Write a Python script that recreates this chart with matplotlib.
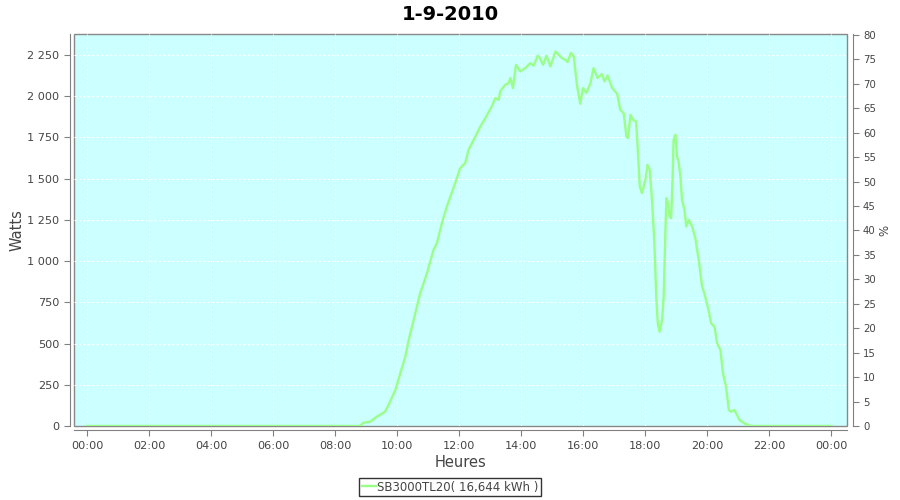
import matplotlib
matplotlib.use("Agg")
import matplotlib.pyplot as plt
from matplotlib.ticker import FuncFormatter, MultipleLocator

title = "1-9-2010"
series_name = "SB3000TL20( 16,644 kWh )"
x_label = "Heures"
y_label = "Watts"
y2_label = "%"

# time in hours, power in watts
hours = [0.0, 8.8, 8.91, 9.13, 9.34, 9.61, 9.77, 9.94, 10.1, 10.26, 10.37, 10.53,
         10.74, 10.96, 11.17, 11.28, 11.44, 11.6, 11.87, 12.03, 12.19, 12.3, 12.52,
         12.68, 12.84, 13.05, 13.16, 13.27, 13.32, 13.48, 13.59, 13.65, 13.73, 13.83,
         13.97, 14.13, 14.29, 14.4, 14.53, 14.6, 14.7, 14.81, 14.94, 15.1, 15.31,
         15.42, 15.49, 15.6, 15.69, 15.8, 15.9, 15.99, 16.1, 16.23, 16.33, 16.46,
         16.6, 16.68, 16.78, 16.93, 17.09, 17.19, 17.3, 17.39, 17.44, 17.52, 17.6,
         17.7, 17.75, 17.82, 17.89, 18.0, 18.07, 18.14, 18.22, 18.29, 18.35, 18.4,
         18.46, 18.54, 18.59, 18.65, 18.68, 18.73, 18.78, 18.83, 18.88, 18.91, 18.97,
         19.02, 19.07, 19.13, 19.18, 19.26, 19.32, 19.4, 19.51, 19.61, 19.72, 19.83,
         19.9, 20.01, 20.12, 20.23, 20.31, 20.42, 20.5, 20.6, 20.69, 20.76, 20.87,
         21.04, 21.2, 21.4, 24.0]
watts = [0, 0, 20, 26, 56, 87, 147, 218, 320, 420, 522, 643,
         805, 927, 1068, 1109, 1230, 1331, 1473, 1564, 1594, 1675, 1755,
         1816, 1867, 1938, 1988, 1978, 2029, 2069, 2079, 2110, 2049, 2190,
         2150, 2170, 2200, 2185, 2245, 2231, 2190, 2245, 2180, 2271, 2231,
         2221, 2207, 2262, 2241, 2059, 1954, 2049, 2019, 2079, 2170, 2110,
         2134, 2089, 2126, 2049, 2015, 1917, 1897, 1755, 1746, 1887, 1857,
         1846, 1695, 1452, 1412, 1493, 1584, 1553, 1351, 1109, 785, 623,
         572, 643, 785, 1209, 1382, 1351, 1270, 1260, 1513, 1735, 1766,
         1634, 1604, 1513, 1371, 1311, 1209, 1250, 1209, 1139, 1007, 845,
         805, 724, 623, 602, 502, 461, 320, 238, 97, 87, 97,
         36, 15, 0, 0]

x_ticks = list(range(0, 25, 2))
x_tick_labels = ["%02d:00" % (h % 24) for h in x_ticks]

bg = "#ccffff"
line_color = "#99ff88"
tick_color = "#808080"
label_color = "#444444"

plt.rcParams['font.family'] = ['DejaVu Sans']

fig = plt.figure(figsize=(9, 5), dpi=100)
ax = fig.add_axes([74/900, 1-426/500, (847-74)/900, (426-34)/500])
ax.set_facecolor(bg)
ax.patch.set_edgecolor("#888888")
ax.patch.set_linewidth(1.0)

ax.plot(hours, watts, color=line_color, lw=1.7, label=series_name, zorder=3)

ax.set_xlim(-0.42, 24.5)
ax.set_ylim(0, 2377)
ax.set_xticks(x_ticks)
ax.set_xticklabels(x_tick_labels)
ax.yaxis.set_major_locator(MultipleLocator(250))
ax.yaxis.set_major_formatter(FuncFormatter(lambda v, p: "{:,.0f}".format(v).replace(",", " ")))
ax.grid(True, color="white", linestyle=(0, (2, 2)), lw=0.8)
ax.set_axisbelow(True)

for s in ["top", "right"]:
    ax.spines[s].set_visible(False)
for s in ["left", "bottom"]:
    ax.spines[s].set_position(("outward", 3))
    ax.spines[s].set_color(tick_color)
ax.tick_params(axis="both", colors=tick_color, labelcolor=label_color,
               labelsize=8.1, length=4, direction="out")

ax.set_xlabel(x_label, fontsize=10.5, color=label_color, labelpad=3)
ax.set_ylabel(y_label, fontsize=10.5, color=label_color, labelpad=2)

ax2 = ax.twinx()
ax2.set_ylim(0, 80.2)
ax2.yaxis.set_major_locator(MultipleLocator(5))
for s in ["top", "left", "bottom"]:
    ax2.spines[s].set_visible(False)
ax2.spines["right"].set_position(("outward", 4))
ax2.spines["right"].set_color(tick_color)
ax2.tick_params(axis="y", colors=tick_color, labelcolor=label_color,
                labelsize=7.3, length=4, direction="out")
ax2.set_ylabel(y2_label, fontsize=8.5, color=label_color, labelpad=2)

fig.text(0.5, 0.972, title, ha="center", va="center", fontsize=14, fontweight="bold")

handles, labels = ax.get_legend_handles_labels()
leg = fig.legend(handles, labels, loc="center", bbox_to_anchor=(0.5, 0.026),
                 fontsize=8.5, frameon=True, fancybox=False, handlelength=1.2,
                 handletextpad=0.1, borderpad=0.25, borderaxespad=0)
leg.get_frame().set_edgecolor("black")
leg.get_frame().set_linewidth(1.0)
for t in leg.get_texts():
    t.set_color(label_color)

fig.savefig("out.png", dpi=100)
